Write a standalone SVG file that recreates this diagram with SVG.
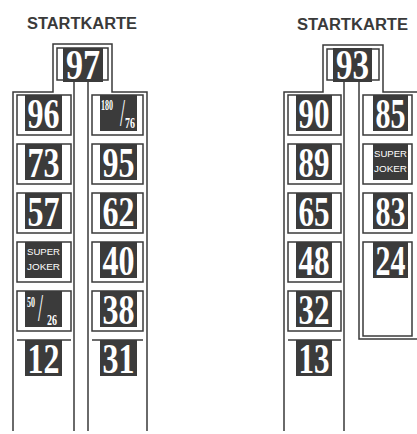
<svg xmlns="http://www.w3.org/2000/svg" width="417" height="434" viewBox="0 0 417 434">
<style>
.ln{fill:none;stroke:#3a3a3a;stroke-width:1.5}
.box{fill:#3b3b3b}
.num{font-family:"Liberation Serif","DejaVu Serif",serif;font-weight:bold;font-size:42px;fill:#fff;text-anchor:middle}
.fr{font-family:"Liberation Serif","DejaVu Serif",serif;font-weight:bold;font-size:14px;fill:#fff;text-anchor:middle}
.sl{font-size:40px;font-weight:normal}
.title{font-family:"Liberation Sans",Arial,sans-serif;font-weight:bold;font-size:16px;fill:#3a3a3a;text-anchor:middle}
.sj{font-family:"Liberation Sans",Arial,sans-serif;font-size:8.5px;fill:#fff;text-anchor:middle}
</style>
<rect width="417" height="434" fill="#fff"/>
<text class="title" x="82" y="29" textLength="110" lengthAdjust="spacingAndGlyphs">STARTKARTE</text>
<text class="title" x="352.5" y="30" textLength="111" lengthAdjust="spacingAndGlyphs">STARTKARTE</text>
<g id="connectors">
<path class="ln" d="M13,431 V92 H53 V44 H112 V92 H147 V431"/>
<path class="ln" d="M74,431 V80 H57 V48 H108 V80 H88 V431"/>
<path class="ln" d="M284,431 V92 H323 V45 H383 V92 H417"/>
<path class="ln" d="M344,431 V80 H327 V49 H379 V80 H359 V339 H417"/>
</g>
<g id="n97"><rect class="box" x="63" y="48" width="40" height="34"/><text class="num" x="83" y="79" textLength="34" lengthAdjust="spacingAndGlyphs">97</text></g>
<g id="n96"><rect class="ln" x="17" y="95" width="54" height="40"/><rect class="box" x="25" y="95" width="37" height="36"/><text class="num" x="43.5" y="128" textLength="32" lengthAdjust="spacingAndGlyphs">96</text></g>
<g id="n73"><rect class="ln" x="17" y="144" width="54" height="40"/><rect class="box" x="25" y="144" width="37" height="36"/><text class="num" x="43.5" y="177" textLength="32" lengthAdjust="spacingAndGlyphs">73</text></g>
<g id="n57"><rect class="ln" x="17" y="193" width="54" height="40"/><rect class="box" x="25" y="193" width="37" height="36"/><text class="num" x="43.5" y="226" textLength="32" lengthAdjust="spacingAndGlyphs">57</text></g>
<g id="nsj1"><rect class="ln" x="17" y="242" width="54" height="40"/><rect class="box" x="25" y="242" width="37" height="36"/><text class="sj" x="43.5" y="255" textLength="33" lengthAdjust="spacingAndGlyphs">SUPER</text><text class="sj" x="43.5" y="270" textLength="33" lengthAdjust="spacingAndGlyphs">JOKER</text></g>
<g id="n5026"><rect class="ln" x="17" y="291" width="54" height="40"/><rect class="box" x="25" y="291" width="37" height="36"/><text class="fr"><tspan x="31" y="307" textLength="8" lengthAdjust="spacingAndGlyphs">50</tspan><tspan class="sl" x="40.5" y="321" textLength="5" lengthAdjust="spacingAndGlyphs">/</tspan><tspan x="52" y="325" textLength="10" lengthAdjust="spacingAndGlyphs">26</tspan></text></g>
<g id="n12"><path class="ln" d="M17,340 H71"/><rect class="box" x="25" y="340" width="37" height="36"/><text class="num" x="43.5" y="373" textLength="32" lengthAdjust="spacingAndGlyphs">12</text></g>
<g id="n18076"><rect class="ln" x="92" y="95" width="51" height="40"/><rect class="box" x="100" y="95" width="37" height="36"/><text class="fr"><tspan x="107" y="110" textLength="12" lengthAdjust="spacingAndGlyphs">180</tspan><tspan class="sl" x="122.5" y="126" textLength="5" lengthAdjust="spacingAndGlyphs">/</tspan><tspan x="130" y="128" textLength="10" lengthAdjust="spacingAndGlyphs">76</tspan></text></g>
<g id="n95"><rect class="ln" x="92" y="144" width="51" height="40"/><rect class="box" x="100" y="144" width="37" height="36"/><text class="num" x="118.5" y="177" textLength="32" lengthAdjust="spacingAndGlyphs">95</text></g>
<g id="n62"><rect class="ln" x="92" y="193" width="51" height="40"/><rect class="box" x="100" y="193" width="37" height="36"/><text class="num" x="118.5" y="226" textLength="32" lengthAdjust="spacingAndGlyphs">62</text></g>
<g id="n40"><rect class="ln" x="92" y="242" width="51" height="40"/><rect class="box" x="100" y="242" width="37" height="36"/><text class="num" x="118.5" y="275" textLength="32" lengthAdjust="spacingAndGlyphs">40</text></g>
<g id="n38"><rect class="ln" x="92" y="291" width="51" height="40"/><rect class="box" x="100" y="291" width="37" height="36"/><text class="num" x="118.5" y="324" textLength="32" lengthAdjust="spacingAndGlyphs">38</text></g>
<g id="n31"><path class="ln" d="M92,340 H143"/><rect class="box" x="100" y="340" width="37" height="36"/><text class="num" x="118.5" y="373" textLength="32" lengthAdjust="spacingAndGlyphs">31</text></g>
<g id="n93"><rect class="box" x="333" y="48" width="39" height="34"/><text class="num" x="352.5" y="79" textLength="33" lengthAdjust="spacingAndGlyphs">93</text></g>
<g id="n90"><rect class="ln" x="288" y="95" width="53" height="40"/><rect class="box" x="296" y="95" width="36" height="36"/><text class="num" x="314" y="128" textLength="31" lengthAdjust="spacingAndGlyphs">90</text></g>
<g id="n89"><rect class="ln" x="288" y="144" width="53" height="40"/><rect class="box" x="296" y="144" width="36" height="36"/><text class="num" x="314" y="177" textLength="31" lengthAdjust="spacingAndGlyphs">89</text></g>
<g id="n65"><rect class="ln" x="288" y="193" width="53" height="40"/><rect class="box" x="296" y="193" width="36" height="36"/><text class="num" x="314" y="226" textLength="31" lengthAdjust="spacingAndGlyphs">65</text></g>
<g id="n48"><rect class="ln" x="288" y="242" width="53" height="40"/><rect class="box" x="296" y="242" width="36" height="36"/><text class="num" x="314" y="275" textLength="31" lengthAdjust="spacingAndGlyphs">48</text></g>
<g id="n32"><rect class="ln" x="288" y="291" width="53" height="40"/><rect class="box" x="296" y="291" width="36" height="36"/><text class="num" x="314" y="324" textLength="31" lengthAdjust="spacingAndGlyphs">32</text></g>
<g id="n13"><path class="ln" d="M288,340 H341"/><rect class="box" x="296" y="340" width="36" height="36"/><text class="num" x="314" y="373" textLength="31" lengthAdjust="spacingAndGlyphs">13</text></g>
<g id="n85"><rect class="ln" x="363" y="95" width="49" height="40"/><rect class="box" x="373" y="95" width="35" height="36"/><text class="num" x="390.5" y="128" textLength="30" lengthAdjust="spacingAndGlyphs">85</text></g>
<g id="nsj2"><rect class="ln" x="363" y="144" width="49" height="40"/><rect class="box" x="373" y="144" width="35" height="36"/><text class="sj" x="390.5" y="157" textLength="33" lengthAdjust="spacingAndGlyphs">SUPER</text><text class="sj" x="390.5" y="172" textLength="33" lengthAdjust="spacingAndGlyphs">JOKER</text></g>
<g id="n83"><rect class="ln" x="363" y="193" width="49" height="40"/><rect class="box" x="373" y="193" width="35" height="36"/><text class="num" x="390.5" y="226" textLength="30" lengthAdjust="spacingAndGlyphs">83</text></g>
<g id="n24"><rect class="ln" x="363" y="242" width="49" height="94"/><rect class="box" x="373" y="242" width="35" height="36"/><text class="num" x="390.5" y="275" textLength="30" lengthAdjust="spacingAndGlyphs">24</text></g>
</svg>
